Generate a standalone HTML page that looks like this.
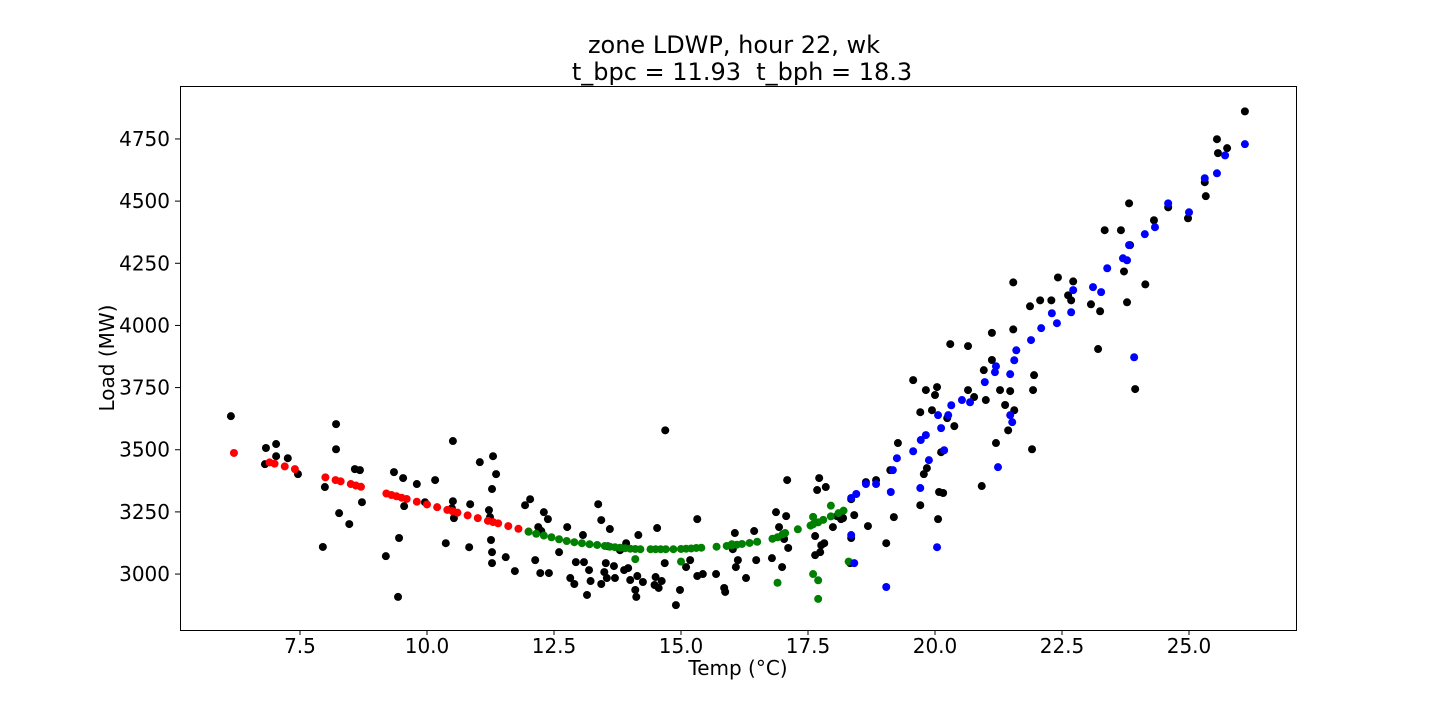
<!DOCTYPE html>
<html><head><meta charset="utf-8"><style>
body{margin:0;background:#fff;}
svg text{font-family:"DejaVu Sans","Liberation Sans",sans-serif;fill:#000;}
</style></head><body>
<svg id="chart" width="1440" height="720" xmlns="http://www.w3.org/2000/svg">
<rect x="0" y="0" width="1440" height="720" fill="#fff"/>
<text x="734" y="53" font-size="24" text-anchor="middle">zone LDWP, hour 22, wk</text>
<text x="742" y="80" font-size="24" text-anchor="middle" xml:space="preserve">t_bpc = 11.93&#160; t_bph = 18.3</text>
<g id="marks"></g>
<g id="axes"></g>
<rect x="180.5" y="86.5" width="1116" height="544" fill="none" stroke="#000" stroke-width="1"/>
<text x="738" y="675" font-size="20" text-anchor="middle">Temp (°C)</text>
<text x="114" y="358" font-size="20" text-anchor="middle" transform="rotate(-90 114 358)">Load (MW)</text>
</svg>
<script>
const xTicks=[7.5,10.0,12.5,15.0,17.5,20.0,22.5,25.0];
const yTicks=[3000,3250,3500,3750,4000,4250,4500,4750];
const blackT=[6.14,6.83,7.03,7.26,7.03,6.81,7.46,7.95,7.99,8.21,8.21,8.27,8.47,8.58,8.68,8.72,9.19,9.35,9.45,9.43,9.53,9.55,9.8,9.96,10.16,10.37,10.49,10.51,10.51,10.53,10.85,10.83,11.04,11.22,11.24,11.26,11.3,11.28,11.28,11.28,11.36,11.55,11.73,11.93,12.03,12.13,12.19,12.23,12.25,12.3,12.38,12.4,12.6,12.76,12.82,12.9,12.93,13.07,13.09,13.15,13.19,13.22,13.37,13.43,13.43,13.49,13.52,13.54,13.56,13.6,13.68,13.7,13.8,13.88,13.92,13.96,14.0,14.1,14.12,14.14,14.16,14.25,14.5,14.48,14.53,14.56,14.62,14.69,14.68,14.9,14.98,15.1,15.18,15.32,15.32,15.43,15.69,15.85,15.87,16.02,16.06,16.08,16.12,16.28,16.44,16.48,16.79,16.87,16.93,16.99,17.03,17.07,17.09,17.11,17.64,17.64,17.68,17.72,17.74,17.76,17.82,17.85,17.99,18.07,18.15,18.19,18.35,18.35,18.41,18.33,18.64,18.68,18.84,19.04,19.12,19.19,19.27,19.57,19.71,19.71,19.78,19.82,19.84,19.94,20.0,20.04,20.06,20.08,20.12,20.16,20.3,20.24,20.38,20.65,20.65,20.77,20.92,20.96,21.0,21.12,21.12,21.2,21.28,21.38,21.44,21.48,21.54,21.54,21.56,21.87,21.91,21.93,21.95,22.07,22.29,22.42,22.62,22.68,22.72,23.07,23.21,23.25,23.34,23.66,23.72,23.78,23.82,23.84,23.94,24.14,24.31,24.59,24.98,25.31,25.33,25.55,25.57,25.75,26.1];
const blackL=[3635,3507,3523,3466,3474,3442,3402,3109,3350,3603,3502,3245,3201,3422,3418,3289,3072,3410,3145,2908,3386,3273,3362,3289,3378,3124,3265,3293,3535,3225,3281,3108,3450,3257,3229,3137,3474,3342,3044,3088,3402,3068,3012,3277,3301,3056,3189,3004,3173,3249,3221,3004,3088,3189,2984,2960,3048,3157,3048,2916,3016,2972,3281,3217,2960,3008,3044,2984,3112,3181,3032,2984,3096,3016,3124,3024,2976,2936,2908,2992,3157,2968,2988,2956,3185,2944,2972,3578,3044,2875,2936,3028,3056,2992,3221,3000,3000,2944,2928,3100,3165,3028,3056,2984,3173,3056,3064,3249,3189,3028,3141,3233,3378,3105,3076,3153,3338,3386,3088,3116,3124,3350,3189,3233,3221,3225,3301,3145,3237,3044,3370,3193,3378,3124,3418,3229,3527,3780,3651,3277,3402,3740,3426,3659,3720,3752,3221,3330,3490,3326,3925,3627,3595,3740,3917,3712,3354,3820,3700,3970,3861,3527,3740,3680,3578,3736,4173,3984,3659,4077,3502,3740,3800,4101,4101,4193,4121,4101,4177,4085,3905,4057,4383,4383,4217,4093,4491,4323,3744,4165,4423,4475,4431,4576,4520,4749,4693,4713,4861];
const redT=[6.2,6.9,7.0,7.2,7.4,8.0,8.2,8.3,8.5,8.6,8.7,9.2,9.3,9.4,9.5,9.6,9.8,10.0,10.2,10.4,10.5,10.6,10.8,11.0,11.2,11.3,11.4,11.6,11.8,12.0];
const redL=[3487,3449,3444,3433,3422,3389,3378,3373,3362,3356,3351,3324,3318,3313,3307,3302,3291,3280,3269,3258,3253,3247,3236,3225,3214,3209,3204,3193,3182,3171];
const greenT=[12.0,12.15,12.3,12.45,12.6,12.75,12.9,13.05,13.2,13.35,13.5,13.6,13.7,13.8,13.9,14.0,14.1,14.2,14.4,14.5,14.6,14.7,14.85,15.0,15.1,15.2,15.3,15.4,15.7,15.9,16.0,16.1,16.2,16.35,16.5,16.8,16.9,17.0,17.05,17.3,17.55,17.6,17.7,17.8,17.95,18.1,18.2,16.9,17.7,17.7,17.6,18.3,17.6,17.95,14.1,15.0,16.0];
const greenL=[3170,3162,3155,3148,3140,3133,3128,3124,3120,3117,3113,3110,3108,3106,3104,3102,3101,3100,3100,3100,3100,3100,3100,3101,3102,3103,3105,3106,3110,3113,3115,3118,3121,3125,3130,3142,3148,3160,3165,3180,3195,3200,3208,3218,3232,3245,3255,2965,2975,2900,3000,3050,3230,3275,3060,3050,3120];
const blueT=[18.35,18.45,18.35,18.41,18.64,18.84,19.13,19.17,19.25,19.04,19.57,19.72,19.82,19.88,19.71,20.06,20.12,20.18,20.26,20.32,20.04,20.53,20.69,20.98,21.18,21.2,21.24,21.48,21.52,21.56,21.6,21.48,21.89,22.09,22.3,22.4,22.68,22.72,23.11,23.27,23.39,23.7,23.78,23.82,23.92,24.13,24.33,24.59,25.0,25.31,25.55,25.71,26.1];
const blueL=[3306,3322,3157,3044,3362,3362,3330,3418,3466,2948,3494,3539,3559,3458,3346,3639,3587,3498,3639,3679,3108,3700,3691,3772,3812,3836,3430,3639,3611,3860,3900,3804,3941,3989,4049,4009,4053,4142,4154,4134,4230,4270,4262,4323,3872,4367,4395,4491,4455,4592,4612,4684,4729];

const NS='http://www.w3.org/2000/svg';
const x0=180,x1=1296,y0=630,y1=86;
const tMin=5.138,tMax=27.106,lMin=2775,lMax=4963;
function sx(t){return x0+(t-tMin)/(tMax-tMin)*(x1-x0);}
function sy(l){return y0-(l-lMin)/(lMax-lMin)*(y0-y1);}
const marks=document.getElementById('marks');
function draw(ts,ls,color,name){
  const n=Math.min(ts.length,ls.length);
  for(let i=0;i<n;i++){
    const c=document.createElementNS(NS,'circle');
    c.setAttribute('cx',sx(ts[i]));c.setAttribute('cy',sy(ls[i]));c.setAttribute('r',4);c.setAttribute('fill',color);
    
    
    marks.appendChild(c);
  }
}
draw(blackT,blackL,'#000','observed-point');
draw(redT,redL,'#ff0000','cold-fit-point');
draw(greenT,greenL,'#008000','mid-fit-point');
draw(blueT,blueL,'#0000ff','hot-fit-point');
const axes=document.getElementById('axes');
xTicks.forEach(v=>{
  const x=sx(v);
  const l=document.createElementNS(NS,'line');
  l.setAttribute('x1',x);l.setAttribute('x2',x);l.setAttribute('y1',630);l.setAttribute('y2',635);l.setAttribute('stroke','#000');
  
  
  axes.appendChild(l);
  const t=document.createElementNS(NS,'text');
  t.setAttribute('x',x);t.setAttribute('y',653);t.setAttribute('font-size','20');t.setAttribute('text-anchor','middle');
  t.textContent=v.toFixed(1);
  
  
  axes.appendChild(t);
});
yTicks.forEach(v=>{
  const y=sy(v);
  const l=document.createElementNS(NS,'line');
  l.setAttribute('x1',175);l.setAttribute('x2',180);l.setAttribute('y1',y);l.setAttribute('y2',y);l.setAttribute('stroke','#000');
  
  
  axes.appendChild(l);
  const t=document.createElementNS(NS,'text');
  t.setAttribute('x',170);t.setAttribute('y',y+7);t.setAttribute('font-size','20');t.setAttribute('text-anchor','end');
  t.textContent=String(v);
  
  
  axes.appendChild(t);
});
</script>
</body></html>
